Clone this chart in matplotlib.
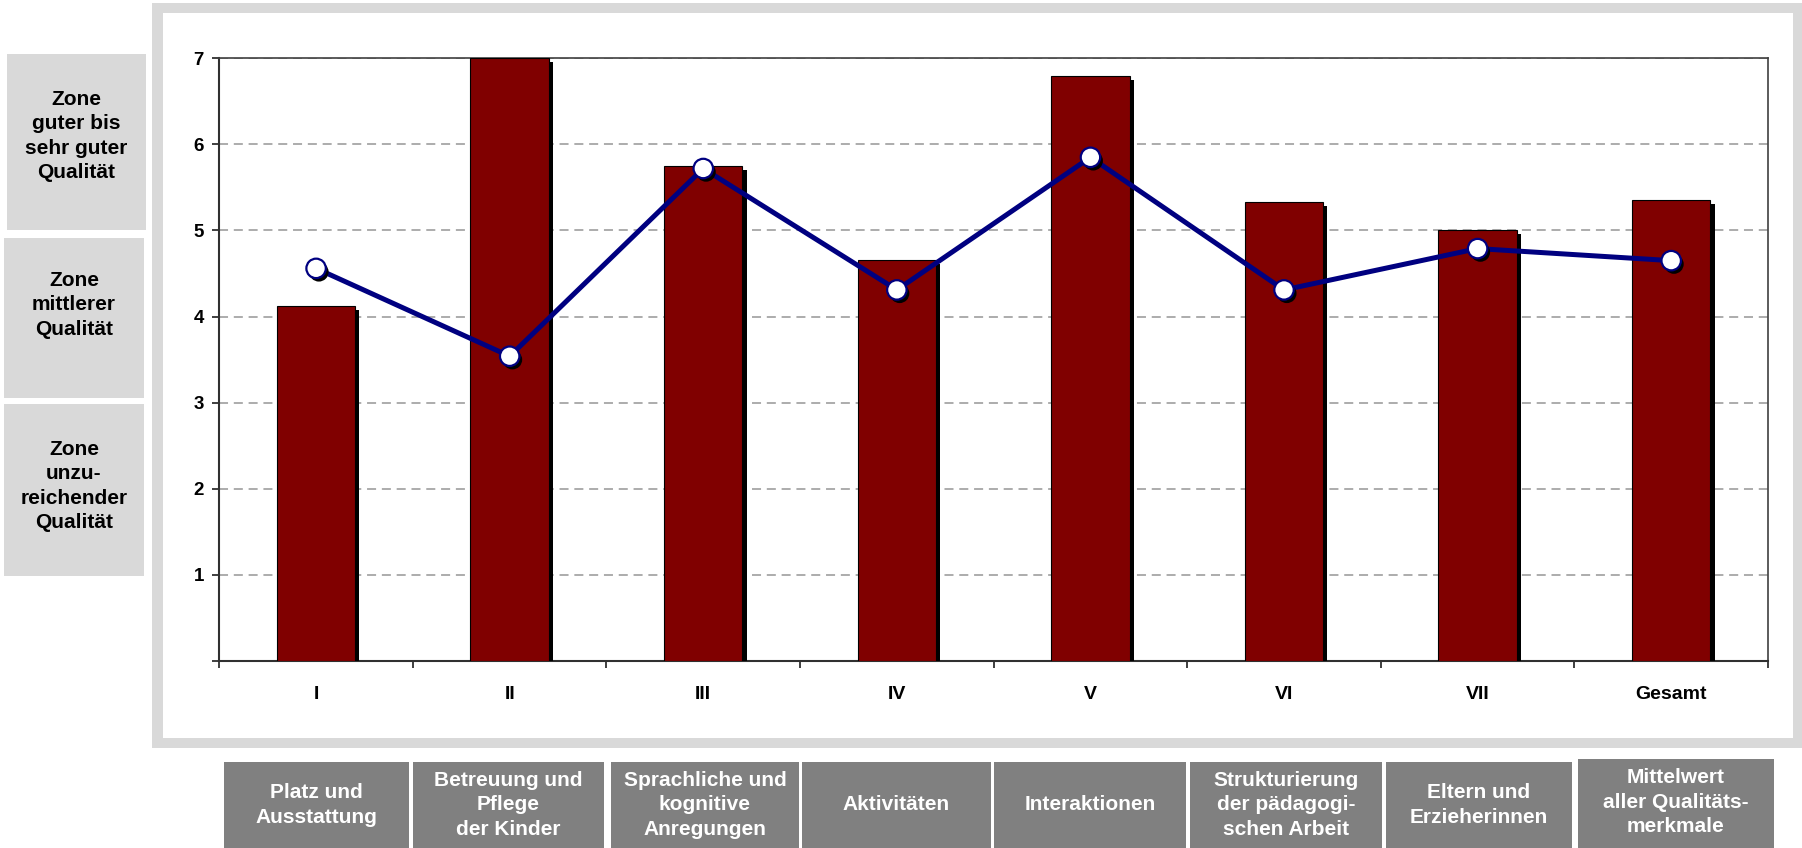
import matplotlib
matplotlib.use("Agg")
import matplotlib.pyplot as plt
import matplotlib.patheffects as pe
from matplotlib.patches import Rectangle

plt.rcParams['font.family'] = ['Liberation Sans', 'DejaVu Sans']

# ---- data -------------------------------------------------------------
categories = ["I", "II", "III", "IV", "V", "VI", "VII", "Gesamt"]
bar_values = [4.12, 7.00, 5.75, 4.66, 6.80, 5.33, 5.01, 5.36]
line_values = [4.56, 3.54, 5.72, 4.31, 5.85, 4.31, 4.79, 4.65]
y_ticks = [0, 1, 2, 3, 4, 5, 6, 7]
y_tick_labels = ["", "1", "2", "3", "4", "5", "6", "7"]

zone_labels = [
    "Zone\nguter bis\nsehr guter\nQualität",
    "Zone\nmittlerer\nQualität",
    "Zone\nunzu-\nreichender\nQualität",
]
area_labels = [
    "Platz und\nAusstattung",
    "Betreuung und\nPflege\nder Kinder",
    "Sprachliche und\nkognitive\nAnregungen",
    "Aktivitäten",
    "Interaktionen",
    "Strukturierung\nder pädagogi-\nschen Arbeit",
    "Eltern und\nErzieherinnen",
    "Mittelwert\naller Qualitäts-\nmerkmale",
]

# ---- figure in pixel units ---------------------------------------------
W, H = 1802, 848
fig = plt.figure(figsize=(W / 100, H / 100), dpi=100)
fig.patch.set_facecolor("white")


def box(x0, y0, x1, y1, color, z=-2):
    r = Rectangle((x0 / W, 1 - y1 / H), (x1 - x0) / W, (y1 - y0) / H,
                  transform=fig.transFigure, facecolor=color,
                  edgecolor="none", zorder=z)
    fig.patches.append(r)


def label(xc, yc, text, color, size=15, lsp=1.36):
    fig.text(xc / W, 1 - yc / H, text, ha="center", va="center",
             ma="center", color=color, fontsize=size, fontweight="bold",
             linespacing=lsp, zorder=5)


# chart frame
box(152, 3, 1802, 748, "#d9d9d9", z=-3)
box(163, 13, 1793, 738, "white", z=-2)

# quality zones on the left
zone_boxes = [(7, 54, 146, 230), (4, 238, 144, 398), (4, 404, 144, 576)]
zone_text_y = [136, 305, 486]
for (x0, y0, x1, y1), ty, txt in zip(zone_boxes, zone_text_y, zone_labels):
    box(x0, y0, x1, y1, "#d9d9d9")
    label((x0 + x1) / 2, ty, txt, "black")

# area captions along the bottom
area_boxes = [(224, 762, 409, 848), (413, 762, 604, 848), (611, 762, 799, 848),
              (802, 762, 991, 848), (994, 762, 1186, 848), (1190, 762, 1382, 848),
              (1386, 762, 1572, 848), (1578, 759, 1774, 848)]
for (x0, y0, x1, y1), txt in zip(area_boxes, area_labels):
    box(x0, y0, x1, y1, "#808080")
    ty = 802 if y0 < 762 else 805
    label((x0 + x1) / 2, ty, txt, "white")

# ---- chart -------------------------------------------------------------
ax_l, ax_r, ax_t, ax_b = 219.3, 1768, 58.3, 661
ax = fig.add_axes([ax_l / W, 1 - ax_b / H, (ax_r - ax_l) / W, (ax_b - ax_t) / H])
ax.set_facecolor("white")

x = list(range(len(categories)))
bar_shadow = [pe.SimplePatchShadow(offset=(3, -3), shadow_rgbFace="black", alpha=1.0),
              pe.Normal()]
ax.bar(x, bar_values, width=0.405, color="#800000", edgecolor="black",
       linewidth=0.8, zorder=3, path_effects=bar_shadow)

ax.plot(x, line_values, color="#000080", lw=3.6, zorder=4, solid_joinstyle="round")
marker_shadow = [pe.SimplePatchShadow(offset=(2, -2.5), shadow_rgbFace="black", alpha=1.0),
                 pe.Normal()]
ax.plot(x, line_values, "o", ms=14, mfc="white", mec="#000080", mew=1.6,
        zorder=5, path_effects=marker_shadow)

ax.set_xlim(-0.5, len(categories) - 0.5)
ax.set_ylim(0, 7)

ax.set_yticks(y_ticks)
ax.set_yticklabels(y_tick_labels, fontsize=13.5, fontweight="bold")
ax.tick_params(axis="y", direction="out", length=5, width=1.3, pad=6, color="#303030")

ax.set_xticks(x)
ax.set_xticklabels(categories, fontsize=14, fontweight="bold")
ax.tick_params(axis="x", which="major", length=0, pad=18)
ax.set_xticks([i - 0.5 for i in range(len(categories) + 1)], minor=True)
ax.tick_params(axis="x", which="minor", direction="out", length=5, width=1.3,
               color="#303030")

ax.yaxis.grid(True, color="#a6a6a6", linestyle=(0, (5, 3.2)), linewidth=1.3)
ax.set_axisbelow(True)

for side in ["left", "bottom"]:
    ax.spines[side].set_color("#303030")
    ax.spines[side].set_linewidth(1.5)
for side in ["top", "right"]:
    ax.spines[side].set_color("#404040")
    ax.spines[side].set_linewidth(1.2)

fig.savefig("out.png", dpi=100)
